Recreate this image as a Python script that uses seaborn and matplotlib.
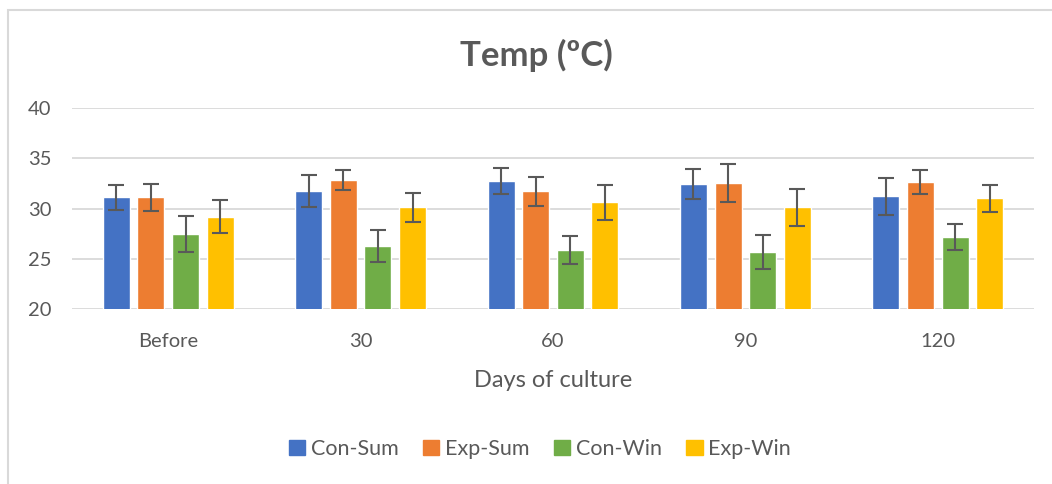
import matplotlib
matplotlib.use("Agg")
import matplotlib.pyplot as plt
import matplotlib.patches as mpatches
import numpy as np
import pandas as pd
import seaborn as sns

# data
days = ["Before", "30", "60", "90", "120"]
series = ["Con-Sum", "Exp-Sum", "Con-Win", "Exp-Win"]
con_sum = [31.1, 31.7, 32.7, 32.4, 31.2]
exp_sum = [31.1, 32.8, 31.7, 32.5, 32.6]
con_win = [27.5, 26.3, 25.9, 25.7, 27.2]
exp_win = [29.2, 30.1, 30.6, 30.1, 31.0]
con_sum_err = [1.2, 1.6, 1.3, 1.5, 1.8]
exp_sum_err = [1.3, 1.0, 1.45, 1.9, 1.2]
con_win_err = [1.8, 1.6, 1.4, 1.7, 1.3]
exp_win_err = [1.6, 1.4, 1.7, 1.8, 1.3]

colors = ["#4472C4", "#ED7D31", "#70AD47", "#FFC000"]
text_col = "#595959"
grid_col = "#D9D9D9"

values = [con_sum, exp_sum, con_win, exp_win]
errors = [con_sum_err, exp_sum_err, con_win_err, exp_win_err]

df = pd.DataFrame({
    "day": np.tile(days, len(series)),
    "series": np.repeat(series, len(days)),
    "temp": np.concatenate(values),
})

sns.set_theme(style="white")
plt.rcParams["font.family"] = ["Lato", "DejaVu Sans"]

fig = plt.figure(figsize=(10.52, 4.84), dpi=100)
ax = fig.add_axes([72 / 1052, 1 - 309 / 484, 962 / 1052, 201 / 484])

sns.barplot(data=df, x="day", y="temp", hue="series", order=days,
            hue_order=series, palette=colors, width=0.72, gap=0.22,
            errorbar=None, saturation=1, ax=ax, legend=False)

# error bars on top of each bar
for cont, errs in zip(ax.containers, errors):
    xs = [b.get_x() + b.get_width() / 2 for b in cont]
    ys = [b.get_height() for b in cont]
    ax.errorbar(xs, ys, yerr=errs, fmt="none", ecolor=text_col,
                elinewidth=1.5, capsize=6, capthick=1.5, zorder=3)

ax.set_xlim(-0.5, len(days) - 0.5)
ax.set_ylim(20, 40)
ax.set_yticks([20, 25, 30, 35, 40])
ax.yaxis.grid(True, color=grid_col, linewidth=1.3)
ax.set_axisbelow(True)
for s in ax.spines.values():
    s.set_visible(False)
ax.tick_params(axis="both", length=0, labelsize=14.5, colors=text_col)
ax.tick_params(axis="x", pad=17)
ax.tick_params(axis="y", pad=15)
ax.set_ylabel("")
ax.set_xlabel("Days of culture", fontsize=17, color=text_col, labelpad=15)

fig.text(536 / 1052, 1 - 55 / 484, "Temp (ºC)", ha="center", va="center",
         fontsize=25, fontweight="bold", color=text_col)

handles = [mpatches.Patch(color=c, label=s) for c, s in zip(colors, series)]
fig.legend(handles=handles, loc="center", bbox_to_anchor=(540 / 1052, 1 - 449 / 484),
           ncol=4, frameon=False, fontsize=15.5, handlelength=0.75, handleheight=0.75,
           handletextpad=0.25, columnspacing=1.15, labelcolor=text_col)

# outer chart border (only top and left visible in the crop)
fig.patches.append(mpatches.Rectangle((8 / 1052, -0.1), 1.2, 1 - 10 / 484 + 0.1,
                                      transform=fig.transFigure, fill=False,
                                      edgecolor=grid_col, linewidth=1.5))

fig.savefig("out.png", dpi=100)
